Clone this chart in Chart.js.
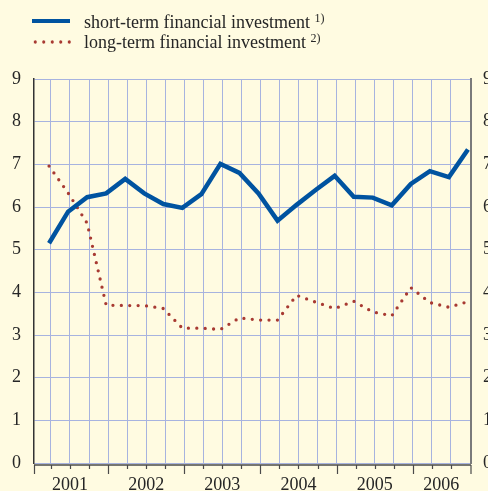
<!DOCTYPE html>
<html>
<head>
<meta charset="utf-8">
<script src="https://cdn.jsdelivr.net/npm/chart.js@4"></script>
<style>
  html, body { margin: 0; padding: 0; width: 488px; height: 491px; overflow: hidden; background: #fffbe1; }
  #wrap { position: absolute; left: 0; top: 0; width: 500px; height: 491px; }
  .leg { position: absolute; left: 84px; font-family: "Liberation Serif", "Times New Roman", serif; font-size: 18px; line-height: 18px; color: #262626; white-space: nowrap; }
  .leg sup { font-size: 12px; line-height: 0; vertical-align: 6px; }
  .sw1 { position: absolute; left: 32px; top: 19px; width: 38px; height: 4px; background: #0053a0; }
  .sw2 { position: absolute; left: 31px; top: 40px; width: 42px; height: 4px;
         background-image: radial-gradient(circle, #a83a32 1.4px, rgba(168,58,50,0) 1.9px);
         background-size: 8.5px 4px; background-repeat: repeat-x; }
</style>
</head>
<body>
<div id="wrap"><canvas id="c" width="500" height="491"></canvas></div>
<div class="sw1"></div>
<div class="leg" style="top:13px">short-term financial investment <sup>1)</sup></div>
<div class="sw2"></div>
<div class="leg" style="top:33px">long-term financial investment <sup>2)</sup></div>
<script>
// ---- data ----
const quarters = [
  '2001 Q1','2001 Q2','2001 Q3','2001 Q4',
  '2002 Q1','2002 Q2','2002 Q3','2002 Q4',
  '2003 Q1','2003 Q2','2003 Q3','2003 Q4',
  '2004 Q1','2004 Q2','2004 Q3','2004 Q4',
  '2005 Q1','2005 Q2','2005 Q3','2005 Q4',
  '2006 Q1','2006 Q2','2006 Q3'
];
const shortTerm = [5.15, 5.89, 6.23, 6.32, 6.66, 6.32, 6.07, 5.98, 6.30, 7.01, 6.80, 6.32,
                   5.68, 6.05, 6.40, 6.73, 6.24, 6.22, 6.04, 6.54, 6.84, 6.70, 7.35];
const longTerm  = [6.96, 6.33, 5.62, 3.70, 3.69, 3.69, 3.62, 3.16, 3.16, 3.13, 3.40, 3.35,
                   3.35, 3.93, 3.77, 3.62, 3.79, 3.54, 3.45, 4.11, 3.76, 3.65, 3.78];
const years = ['2001', '2002', '2003', '2004', '2005', '2006'];
const yTicks = [0, 1, 2, 3, 4, 5, 6, 7, 8, 9];

// ---- derived layout helpers (from the data arrays) ----
const GRID_SHIFT = 0.1;
const xMin = -0.79, xMax = 22.16;
const yearSpans = years.map(y => {
  const idx = quarters.map((q, i) => q.startsWith(y) ? i : -1).filter(i => i >= 0);
  const lo = idx[0] - 1 + GRID_SHIFT, hi = idx[idx.length - 1] + GRID_SHIFT;
  return { lo, hi, mid: (lo + hi) / 2 };
});
const gridVals = quarters.map((q, i) => i + GRID_SHIFT).filter(v => v < xMax - 0.3);
const boundaryVals = [xMin].concat(yearSpans.slice(1).map(s => s.lo)).concat([xMax]);

const FONT = { family: '"Liberation Serif", "Times New Roman", serif', size: 18 };
const TXT = '#262626';
const GRID = '#a7b3df';

const bottomAxis = {
  id: 'bottomAxis',
  afterDraw(chart) {
    const { ctx, chartArea } = chart;
    const xs = chart.scales.x;
    const y0 = chartArea.bottom + 2;
    ctx.save();
    ctx.strokeStyle = '#4a4a4a';
    ctx.lineWidth = 1.5;
    ctx.beginPath();
    ctx.moveTo(chartArea.left, y0);
    ctx.lineTo(chartArea.right, y0);
    ctx.stroke();
    ctx.lineWidth = 1.2;
    ctx.beginPath();
    gridVals.forEach(v => {
      const px = Math.round(xs.getPixelForValue(v)) + 0.5;
      ctx.moveTo(px, y0); ctx.lineTo(px, y0 + 4);
    });
    boundaryVals.forEach(v => {
      let px = Math.round(xs.getPixelForValue(v)) + 0.5;
      px = Math.min(Math.max(px, chartArea.left), chartArea.right);
      ctx.moveTo(px, y0); ctx.lineTo(px, y0 + 9);
    });
    ctx.stroke();
    ctx.restore();
  }
};

new Chart(document.getElementById('c'), {
  type: 'line',
  data: {
    datasets: [
      {
        label: 'short-term financial investment',
        data: shortTerm.map((v, i) => ({ x: i, y: v })),
        borderColor: '#0053a0',
        borderWidth: 4.5,
        borderJoinStyle: 'miter',
        pointRadius: 0,
        tension: 0
      },
      {
        label: 'long-term financial investment',
        data: longTerm.map((v, i) => ({ x: i, y: v })),
        borderColor: '#a83a32',
        borderWidth: 3.3,
        borderDash: [0, 8.4],
        borderCapStyle: 'round',
        pointRadius: 0,
        tension: 0
      }
    ]
  },
  options: {
    responsive: false,
    animation: false,
    events: [],
    layout: { padding: { top: 79, left: 0, right: 0, bottom: 0 } },
    plugins: { legend: { display: false }, tooltip: { enabled: false } },
    scales: {
      x: {
        type: 'linear', min: xMin, max: xMax,
        afterBuildTicks: s => { s.ticks = gridVals.map(v => ({ value: v })); },
        afterFit: s => { s.height = 0; },
        grid: { color: GRID, lineWidth: 1, drawTicks: false },
        border: { display: false },
        ticks: { display: false }
      },
      xLabel: {
        type: 'linear', position: 'bottom', min: xMin, max: xMax,
        afterBuildTicks: s => { s.ticks = yearSpans.map(sp => ({ value: sp.mid })); },
        afterFit: s => { s.height = 28; },
        grid: { display: false, drawTicks: false },
        border: { display: false },
        ticks: {
          autoSkip: false, maxRotation: 0, padding: 11,
          font: FONT, color: TXT,
          callback: (v, i) => years[i]
        }
      },
      y: {
        position: 'left', min: 0, max: 9,
        afterBuildTicks: s => { s.ticks = yTicks.map(v => ({ value: v })); },
        afterFit: s => { s.width = 34; },
        grid: { color: GRID, lineWidth: 1, drawTicks: false },
        border: { display: true, color: '#333333', width: 1.5 },
        ticks: { padding: 13, font: FONT, color: TXT }
      },
      yRight: {
        position: 'right', min: 0, max: 9,
        afterBuildTicks: s => { s.ticks = yTicks.map(v => ({ value: v })); },
        afterFit: s => { s.width = 29; },
        grid: { display: false, drawTicks: false },
        border: { display: true, color: '#7a7a7a', width: 2 },
        ticks: { padding: 12, font: FONT, color: TXT }
      }
    }
  },
  plugins: [bottomAxis]
});
</script>
</body>
</html>
